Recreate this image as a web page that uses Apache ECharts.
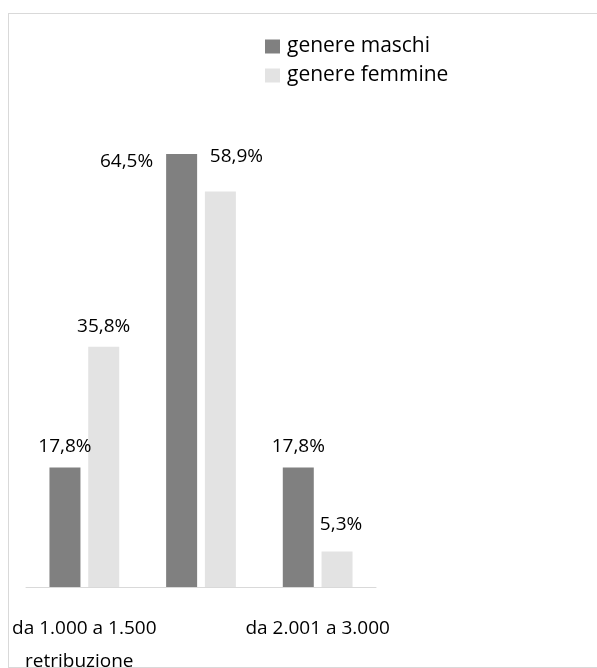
<!DOCTYPE html>
<html>

<head>
    <meta charset="UTF-8">
    <script src="https://cdn.jsdelivr.net/npm/echarts@6/dist/echarts.min.js"></script>
    <style>
    html, body {
        margin: 0;
        padding: 0;
        overflow: hidden;
        background: #fff;
    }
    .chart-box {
        position: absolute;
        left: 8px;
        top: 13px;
        width: 620px;
        height: 653px;
        border: 1px solid #d9d9d9;
    }
    #chart {
        width: 588px;
        height: 653px;
    }
    </style>
</head>

<body>
    <div class="chart-box">
        <div id="chart"></div>
    </div>
    <script>
    var categories = ['da 1.000 a 1.500', 'da 1.501 a 2.000', 'da 2.001 a 3.000'];
    var seriesNames = ['genere maschi', 'genere femmine'];
    var maschi = [17.8, 64.5, 17.8];
    var femmine = [35.8, 58.9, 5.3];

    var FONT = '"Open Sans", sans-serif';

    function fmt(p) {
        return String(p.value).replace('.', ',') + '%';
    }

    // etichette spostate a mano come nel grafico originale
    var maschiData = maschi.map(function(v, i) {
        var item = { value: v };
        if (i === 1) {
            item.label = { position: [-13, -2], align: 'right', verticalAlign: 'top' };
        }
        return item;
    });
    var femmineData = femmine.map(function(v, i) {
        var item = { value: v };
        if (i === 1) {
            item.label = { offset: [16, -14] };
        } else if (i === 2) {
            item.label = { offset: [4, -6] };
        }
        return item;
    });

    var labelStyle = {
        show: true,
        position: 'top',
        distance: 11,
        formatter: fmt,
        color: '#000',
        fontFamily: FONT,
        fontSize: 19
    };

    var option = {
        animation: false,
        title: {
            text: 'retribuzione',
            left: 16,
            top: 638,
            padding: 0,
            textStyle: {
                color: '#000',
                fontFamily: FONT,
                fontSize: 19,
                fontWeight: 'normal'
            }
        },
        legend: {
            orient: 'vertical',
            left: 256,
            top: 22,
            padding: 0,
            icon: 'rect',
            itemWidth: 15,
            itemHeight: 14,
            itemGap: 8,
            selectedMode: false,
            textStyle: {
                color: '#000',
                fontFamily: FONT,
                fontSize: 21,
                lineHeight: 21,
                padding: [0, 0, 0, 2]
            },
            data: seriesNames
        },
        grid: {
            left: 17,
            width: 350,
            top: 103,
            bottom: 80,
            containLabel: false
        },
        xAxis: {
            type: 'category',
            data: categories,
            axisLine: { lineStyle: { color: '#d9d9d9', width: 1 } },
            axisTick: { show: false },
            axisLabel: {
                interval: 1,
                margin: 32,
                color: '#000',
                fontFamily: FONT,
                fontSize: 19
            }
        },
        yAxis: {
            type: 'value',
            min: 0,
            max: 70,
            show: false,
            splitLine: { show: false }
        },
        series: [{
            name: seriesNames[0],
            type: 'bar',
            barWidth: 31,
            barGap: '25%',
            itemStyle: { color: '#808080' },
            label: labelStyle,
            data: maschiData
        }, {
            name: seriesNames[1],
            type: 'bar',
            barWidth: 31,
            itemStyle: { color: '#e3e3e3' },
            label: labelStyle,
            data: femmineData
        }]
    };

    var myChart = echarts.init(document.getElementById('chart'));
    myChart.setOption(option);
    </script>
</body>

</html>
